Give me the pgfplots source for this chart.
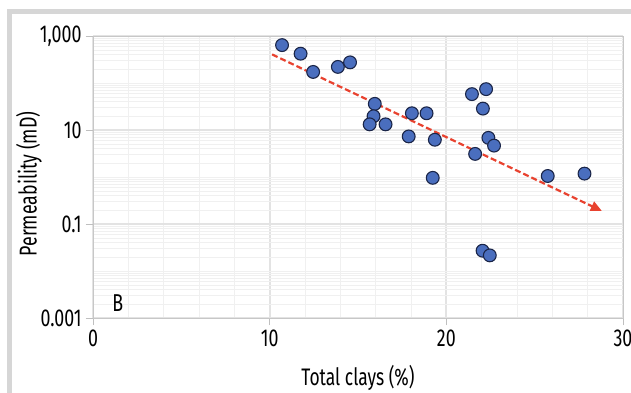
\documentclass[border=0pt]{standalone}
\usepackage{fontspec}
\setmainfont{Fira Sans}[FakeStretch=0.73]
\usepackage{pgfplots}
\pgfplotsset{compat=1.18}
\usetikzlibrary{arrows.meta}
\definecolor{dotfill}{HTML}{4A6EBE}
\definecolor{dotedge}{HTML}{1A2548}
\definecolor{trend}{HTML}{E8422F}
\definecolor{frame}{HTML}{D6D6D6}
\begin{document}
\begin{tikzpicture}
\useasboundingbox (0,0) rectangle (631bp,393bp);
\fill[white] (0,0) rectangle (631bp,393bp);
\draw[line width=5bp, color=frame] (9.5bp,0) -- (9.5bp,381.5bp) -- (631bp,381.5bp);
\begin{axis}[
  at={(93bp,75bp)}, anchor=south west,
  width=530bp, height=282bp, scale only axis,
  ymode=log, xmin=0, xmax=30, ymin=0.001, ymax=1000,
  xtick={0,10,20,30},
  ytick={0.001,0.1,10,1000},
  yticklabels={0.001,0.1,10,{1,000}},
  minor xtick={2,4,6,8,12,14,16,18,22,24,26,28},
  minor ytick={0.002,0.003,0.004,0.005,0.006,0.007,0.008,0.009,0.01,0.02,0.03,0.04,0.05,0.06,0.07,0.08,0.09,0.2,0.3,0.4,0.5,0.6,0.7,0.8,0.9,1,2,3,4,5,6,7,8,9,20,30,40,50,60,70,80,90,100,200,300,400,500,600,700,800,900},
  grid=both,
  major grid style={line width=1.8pt, color=black!11},
  minor grid style={line width=0.6pt, color=black!6},
  axis line style={color=black!22, line width=0.9pt},
  tick style={color=black!25, line width=0.9pt},
  major tick length=7bp, minor tick length=0pt,
  tick align=outside,
  xtick pos=bottom, ytick pos=left,
  /pgf/number format/assume math mode=true,
  tick label style={font=\fontsize{24.5}{28}\selectfont},
  xticklabel style={yshift=-1bp},
  yticklabel style={xshift=-1bp},
  xlabel={Total clays (\%)},
  ylabel={Permeability (mD)},
  xlabel style={at={([yshift=-60bp]rel axis cs:0.5,0)}, anchor=center, font=\fontsize{24}{28}\selectfont},
  ylabel style={at={([xshift=-64bp,yshift=-7bp]rel axis cs:0,0.5)}, anchor=center, rotate=0, font=\fontsize{24.5}{28}\selectfont},
  clip=false,
]
\addplot[trend, line width=2.2pt, dash pattern=on 6pt off 3pt, -{Triangle[length=11bp,width=10bp]}] coordinates {(10.14,405) (28.8,0.19)};
\addplot[only marks, mark=*, mark size=6.4bp, mark options={fill=dotfill, draw=dotedge, line width=1.1pt}] coordinates {
(10.7,640) (11.75,420) (12.46,172) (13.86,220) (14.55,275)
(21.45,58) (22.25,74) (22.07,28.5)
(15.95,36) (15.88,19.6) (15.66,13.2) (16.56,13.2)
(18.05,22.7) (18.88,22.7) (17.87,7.3) (19.35,6.2)
(22.38,6.8) (22.7,4.65) (21.63,3.1) (19.23,0.96)
(25.74,1.05) (27.82,1.18) (22.05,0.027) (22.46,0.0215)
};
\node[anchor=center, font=\fontsize{24.5}{28}\selectfont] at (axis cs:1.4,0.0021) {B};
\end{axis}
\end{tikzpicture}
\end{document}
